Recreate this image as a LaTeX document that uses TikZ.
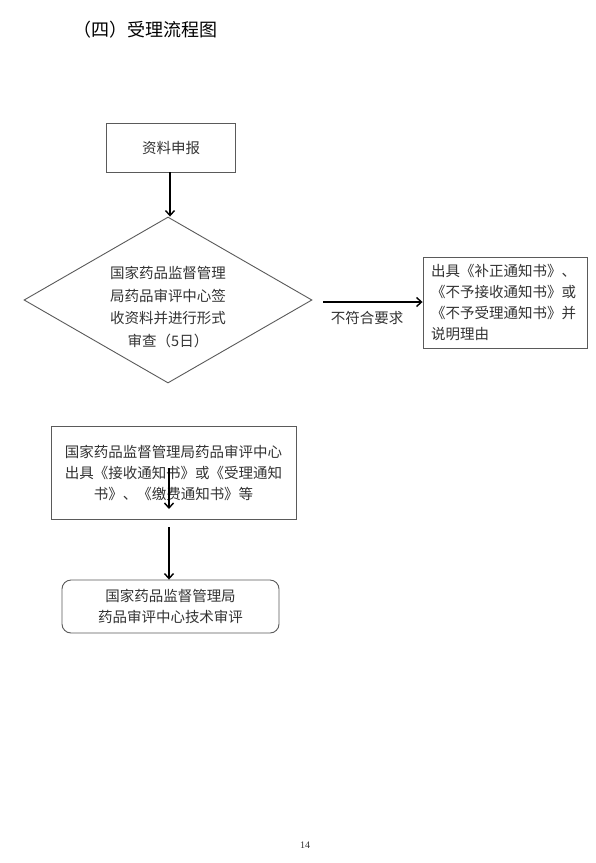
\documentclass[tikz,border=0pt]{standalone}
\usepackage{fontspec}
\setmainfont{Liberation Serif}
\newfontfamily\cjk{Noto Sans CJK SC}
\usetikzlibrary{arrows.meta,shapes.geometric}
\definecolor{boxline}{HTML}{5A5A5A}
\definecolor{boxtext}{HTML}{333333}
\tikzset{
  boxstyle/.style={draw=boxline, line width=0.9pt, inner sep=0pt, text=boxtext,
    font=\cjk\fontsize{14.5}{21}\selectfont},
  flowarrow/.style={draw=black, line width=1.5pt, -{Straight Barb[length=5pt,width=9pt,line width=1.4pt]}},
  plaintext/.style={inner sep=0pt, text=boxtext, font=\cjk\fontsize{14.5}{21}\selectfont}
}
\begin{document}
\begin{tikzpicture}[x=1pt,y=-1pt]
\useasboundingbox[fill=white] (0,0) rectangle (595,863);

\node[inner sep=0pt, font=\cjk\fontsize{18}{22}\selectfont, anchor=west] (title) at (73,30) {（四）受理流程图};

\node[boxstyle, minimum width=129pt, minimum height=49pt] (b1) at (171,147.5) {资料申报};

\node[diamond, draw=boxline, line width=0.9pt, minimum width=288pt, minimum height=166pt, inner sep=0pt] (dia) at (168,300) {};
\node[plaintext, align=center, font=\cjk\fontsize{14.5}{22.5}\selectfont] (diatext) at (168,307) {国家药品监督管理\\局药品审评中心签\\收资料并进行形式\\审查（5日）};

\node[boxstyle, minimum width=164pt, minimum height=91pt, align=left, text width=148pt] (rbox) at (505,302.5) {出具《补正通知书》、\\《不予接收通知书》或\\《不予受理通知书》并\\说明理由};

\coordinate (r0) at (323,302);
\node[plaintext] (nolabel) at (367,318) {不符合要求};

\node[boxstyle, minimum width=245pt, minimum height=93pt, align=center] (b3) at (173.5,472.5) {国家药品监督管理局药品审评中心\\出具《接收通知书》或《受理通知\\书》、《缴费通知书》等};

\coordinate (a3s) at (169,468);
\coordinate (a3e) at (169,509);
\coordinate (a4s) at (169,527);

\node[boxstyle, rounded corners=9pt, minimum width=217pt, minimum height=53pt, align=center] (b4) at (170.5,606.5) {国家药品监督管理局\\药品审评中心技术审评};

\node[inner sep=0pt, font=\fontsize{10}{12}\selectfont, text=boxtext] (pnum) at (305,845) {14};

\draw[flowarrow] (b1.south -| 170,0) -- (dia.north -| 170,0);
\draw[flowarrow] (r0) -- (rbox.west |- r0);
\draw[flowarrow] (a3s) -- (a3e);
\draw[flowarrow] (a4s) -- (b4.north -| a4s);
\end{tikzpicture}
\end{document}
